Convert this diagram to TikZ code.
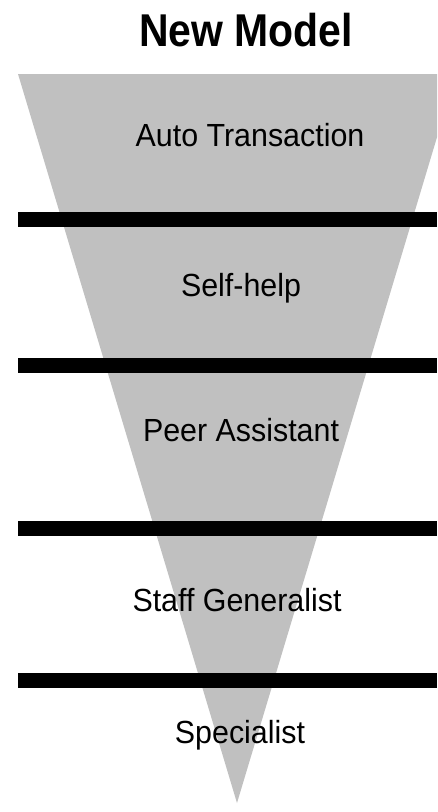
\documentclass[tikz,border=0pt]{standalone}
\usepackage{fontspec}
\setmainfont{Liberation Sans}
\definecolor{funnelgray}{HTML}{C0C0C0}
\newcommand{\narrowtxt}[1]{\scalebox{0.95}[1]{#1}}
\tikzset{
  lbl/.style={inner sep=0pt, anchor=base, font=\fontsize{32}{38}\selectfont},
  ttl/.style={inner sep=0pt, anchor=base, font=\fontsize{46}{52}\selectfont\bfseries},
  bar/.style={fill=black, draw=none},
  funnel/.style={fill=funnelgray, draw=none}
}
\begin{document}
\begin{tikzpicture}[x=1pt,y=-1pt]
\useasboundingbox (0,0) rectangle (437,812);
\begin{scope}
\clip (0,0) rectangle (437,812);
\fill[funnel] (18,74) -- (456,74) -- (237,803) -- cycle;
\end{scope}
\fill[bar] (18,212) rectangle (437,226.7);
\fill[bar] (18,358.3) rectangle (437,372.7);
\fill[bar] (18,521) rectangle (437,535.7);
\fill[bar] (18,672.7) rectangle (437,687.7);
\node[ttl] (title) at (246,46.7) {\scalebox{0.89}[1]{New Model}};
\node[lbl] (auto) at (250,146.7) {\narrowtxt{Auto Transaction}};
\node[lbl] (self) at (241,296.7) {\narrowtxt{Self-help}};
\node[lbl] (peer) at (241,441.7) {\narrowtxt{Peer Assistant}};
\node[lbl] (staff) at (237,611.7) {\narrowtxt{Staff Generalist}};
\node[lbl] (spec) at (240,743) {\narrowtxt{Specialist}};
\end{tikzpicture}
\end{document}
